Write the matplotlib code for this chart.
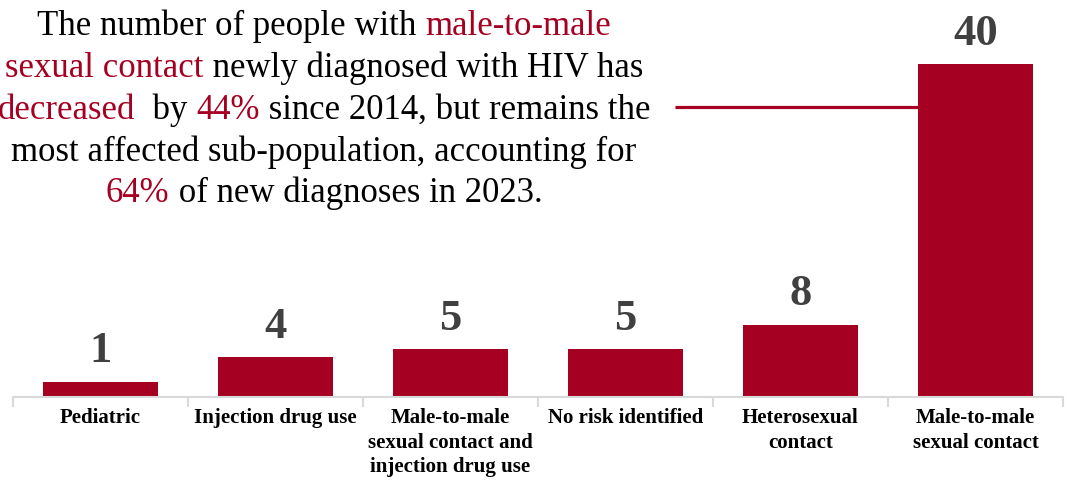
import numpy as np
import matplotlib.pyplot as plt
from matplotlib.offsetbox import TextArea, HPacker, VPacker, AnnotationBbox

# data
categories = ['Pediatric', 'Injection drug use',
              'Male-to-male\nsexual contact and\ninjection drug use',
              'No risk identified', 'Heterosexual\ncontact',
              'Male-to-male\nsexual contact']
values = np.array([1, 4, 5, 5, 8, 40])

# note text, as (text, highlighted) pieces per line
note_lines = [
    [('The number of people with ', False), ('male-to-male', True)],
    [('sexual contact', True), (' newly diagnosed with HIV has', False)],
    [('decreased', True), ('  by ', False), ('44%', True), (' since 2014, but remains the', False)],
    [('most affected sub-population, accounting for', False)],
    [('64%', True), (' of new diagnoses in 2023.', False)],
]

RED = '#A50021'
GREY = '#404040'
SERIF = ['Liberation Serif', 'DejaVu Serif']

fig = plt.figure(figsize=(10.7, 4.82), dpi=100)
ax = fig.add_axes([13 / 1070, 85 / 482, 1050 / 1070, 397 / 482])

# axis starts a bit below zero, like the original chart
base = -0.85
ax.set_ylim(base, base + 397 / 8.15)
ax.set_xlim(-0.5, len(values) - 0.5)

x = np.arange(len(values))
bars = ax.bar(x, values - base, bottom=base, width=0.66, color=RED, zorder=2)

for xi, v in zip(x, values):
    ax.annotate(str(v), (xi, v), xytext=(0, 14), textcoords='offset points',
                ha='center', va='baseline', fontsize=32, fontweight='bold',
                color=GREY, family=SERIF)

# axes styling
for s in ['top', 'right', 'left']:
    ax.spines[s].set_visible(False)
ax.spines['bottom'].set_color('#d9d9d9')
ax.spines['bottom'].set_linewidth(1.5)
ax.set_yticks([])
ax.set_xticks(x)
ax.set_xticklabels(categories, fontsize=15, fontweight='bold', family=SERIF,
                   linespacing=1.3, va='top')
ax.tick_params(axis='x', which='major', length=0, pad=8)
ax.set_xticks(np.arange(-0.5, len(values)), minor=True)
ax.tick_params(axis='x', which='minor', length=7, width=1.5, color='#d9d9d9')

# connector line from the note to the tallest bar
bar_left = bars[-1].get_x()
ax.plot([np.interp(675, [13, 1063], [-0.5, len(values) - 0.5]), bar_left],
        [34.7, 34.7], color=RED, lw=2.3, zorder=3, solid_capstyle='butt')

# note text, centred lines with highlighted words
rows = []
for line in note_lines:
    parts = [TextArea(t, textprops=dict(color=RED if hl else 'black', fontsize=25,
                                        family=SERIF))
             for t, hl in line]
    rows.append(HPacker(children=parts, align='baseline', pad=0, sep=0))
note = VPacker(children=rows, align='center', pad=0, sep=6)
ab = AnnotationBbox(note, (324 / 1070, 1 - 110 / 482), xycoords='figure fraction',
                    box_alignment=(0.5, 0.5), frameon=False)
fig.add_artist(ab)

fig.savefig('out.png', dpi=100)
